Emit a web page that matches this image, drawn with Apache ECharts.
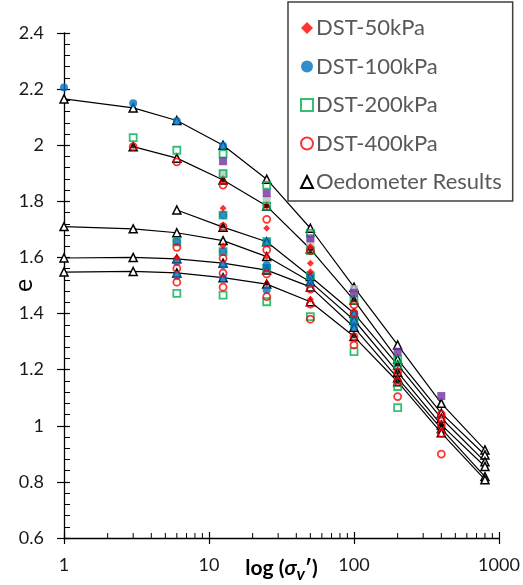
<!DOCTYPE html>
<html>
<head>
<meta charset="utf-8">
<script src="https://cdn.jsdelivr.net/npm/echarts@6/dist/echarts.min.js"></script>
<style>
  html, body { margin: 0; padding: 0; background: #fff; }
  #chart { width: 523px; height: 585px; }
</style>
</head>
<body>
<div id="chart"></div>
<script>
// Vertical effective stress steps (kPa)
const pressures = [1, 3, 6, 12.5, 25, 50, 100, 200, 400, 800];

// Oedometer compression curves (void ratio e at each pressure step; null = not loaded)
const oedoA = [2.165, 2.133, 2.088, 2.000, 1.879, 1.704, 1.494, 1.288, 1.080, 0.914];
const oedoB = [null, 1.995, 1.954, 1.876, 1.783, 1.630, 1.448, 1.237, 1.045, 0.896];
const oedoC = [null, null, 1.769, 1.708, 1.656, 1.532, 1.401, 1.217, 1.027, 0.872];
const oedoD = [1.710, 1.702, 1.688, 1.660, 1.603, 1.513, 1.377, 1.191, 1.003, 0.855];
const oedoE = [1.598, 1.600, 1.595, 1.580, 1.555, 1.495, 1.351, 1.170, 0.990, 0.819];
const oedoF = [1.548, 1.550, 1.545, 1.528, 1.505, 1.442, 1.318, 1.157, 0.975, 0.808];

// Direct shear specimens: [pressure, e]
const dst50 = [
  [6, 1.600],
  [12.5, 1.876], [12.5, 1.775], [12.5, 1.642],
  [25, 1.783], [25, 1.704], [25, 1.603], [25, 1.508],
  [50, 1.638], [50, 1.579], [50, 1.549], [50, 1.451]
];
const dst100 = [
  [1, 2.206], [3, 2.150],
  [6, 2.086], [6, 1.656], [6, 1.585], [6, 1.535],
  [12.5, 1.998], [12.5, 1.751], [12.5, 1.621], [12.5, 1.573], [12.5, 1.526],
  [25, 1.656], [25, 1.573], [25, 1.561], [25, 1.484],
  [50, 1.534], [50, 1.505],
  [100, 1.401], [100, 1.377], [100, 1.351]
];
const dst200 = [
  [3, 2.027],
  [6, 1.982], [6, 1.656], [6, 1.472],
  [12.5, 1.969], [12.5, 1.899], [12.5, 1.751], [12.5, 1.621], [12.5, 1.466],
  [25, 1.858], [25, 1.783], [25, 1.656], [25, 1.561], [25, 1.442],
  [50, 1.686], [50, 1.624], [50, 1.534], [50, 1.389],
  [100, 1.448], [100, 1.377], [100, 1.264],
  [200, 1.237], [200, 1.217], [200, 1.140], [200, 1.065]
];
const dst400 = [
  [3, 1.995],
  [6, 1.941], [6, 1.636], [6, 1.561], [6, 1.512],
  [12.5, 1.858], [12.5, 1.710], [12.5, 1.597], [12.5, 1.544], [12.5, 1.494],
  [25, 1.736], [25, 1.627], [25, 1.541], [25, 1.460],
  [50, 1.624], [50, 1.487], [50, 1.434], [50, 1.380],
  [100, 1.431], [100, 1.401], [100, 1.318], [100, 1.288],
  [200, 1.191], [200, 1.157], [200, 1.104],
  [400, 1.041], [400, 1.027], [400, 1.003], [400, 0.973], [400, 0.899]
];
// Additional specimens shown without a legend entry
const extraPurple = [[12.5, 1.943], [25, 1.829], [50, 1.668], [100, 1.474], [200, 1.264], [400, 1.106]];
const extraGray = [[12.5, 1.899], [25, 1.805], [50, 1.653], [100, 1.487]];
const extraBlack = [
  [3, 1.995], [12.5, 1.876], [12.5, 1.710], [25, 1.783], [25, 1.508], [50, 1.624],
  [100, 1.448], [100, 1.318], [200, 1.217], [200, 1.191], [200, 1.157], [400, 1.003]
];

// Axis ranges and tick values
const xMin = 1, xMax = 1000;
const yMin = 0.6, yMax = 2.4, yStep = 0.2;
const xMinorTicks = [2, 3, 4, 5, 6, 7, 8, 9, 20, 30, 40, 50, 60, 70, 80, 90, 200, 300, 400, 500, 600, 700, 800, 900];

const FONT = 'Lato, "Liberation Sans", sans-serif';

function curve(values) {
  return pressures.map((p, i) => [p, values[i]]).filter(d => d[1] !== null);
}

const oedoStyle = {
  type: 'line',
  name: 'Oedometer Results',
  symbol: 'triangle',
  symbolSize: 8,
  showSymbol: true,
  lineStyle: { color: '#000', width: 1.2 },
  itemStyle: { color: '#fff', borderColor: '#000', borderWidth: 1.5 },
  z: 2,
  animation: false
};

const oedoSeries = [oedoA, oedoB, oedoC, oedoD, oedoE, oedoF].map(v =>
  Object.assign({}, oedoStyle, { data: curve(v) })
);

const chart = echarts.init(document.getElementById('chart'), null, { renderer: 'canvas' });

chart.setOption({
  animation: false,
  backgroundColor: '#fff',
  grid: { left: 64, right: 24, top: 33, bottom: 47, containLabel: false, outerBoundsMode: 'none' },
  xAxis: [
    {
      type: 'log', logBase: 10, min: xMin, max: xMax,
      axisLine: { lineStyle: { color: '#000', width: 1.3 } },
      axisTick: { inside: true, length: 6, lineStyle: { color: '#000', width: 1.2 } },
      axisLabel: { color: '#1a1a1a', fontSize: 18, fontFamily: FONT, margin: 18,
                   formatter: v => String(Math.round(v)) },
      splitLine: { show: false },
      name: '{b|log (}{i|σ}{s|v}{b|′)}',
      nameLocation: 'middle',
      nameGap: 15,
      nameMoveOverlap: false,
      nameTextStyle: {
        rich: {
          b: { fontSize: 21, fontWeight: 'bold', fontFamily: FONT, color: '#000', lineHeight: 30 },
          i: { fontSize: 21, fontWeight: 'bold', fontStyle: 'italic', fontFamily: FONT, color: '#000', lineHeight: 30 },
          s: { fontSize: 17, fontWeight: 'bold', fontStyle: 'italic', fontFamily: FONT, color: '#000', lineHeight: 12, verticalAlign: 'bottom' }
        }
      }
    },
    {
      type: 'log', logBase: 10, min: xMin, max: xMax, position: 'bottom', offset: 0,
      axisLine: { show: false },
      axisTick: { inside: false, length: 6, lineStyle: { color: '#000', width: 1.2 } },
      axisLabel: { show: false },
      splitLine: { show: false }
    }
  ],
  yAxis: [
    {
      type: 'value', min: yMin, max: yMax, interval: yStep,
      axisLine: { show: true, lineStyle: { color: '#000', width: 1.3 } },
      axisTick: { show: true, inside: true, length: 6, lineStyle: { color: '#000', width: 1.2 } },
      minorTick: { show: true, splitNumber: 5, length: 6, lineStyle: { color: '#000', width: 1 } },
      axisLabel: { color: '#1a1a1a', fontSize: 18, fontFamily: FONT, margin: 20,
                   formatter: v => String(Math.round(v * 10) / 10) },
      splitLine: { show: false },
      minorSplitLine: { show: false },
      name: 'e',
      nameLocation: 'middle',
      nameRotate: 90,
      nameGap: 28,
      nameMoveOverlap: false,
      nameTextStyle: { fontSize: 25, fontFamily: FONT, color: '#000' }
    },
    {
      type: 'value', min: yMin, max: yMax, interval: yStep, position: 'left', offset: 0,
      axisLine: { show: false },
      axisTick: { show: true, inside: false, length: 7, lineStyle: { color: '#000', width: 1.2 } },
      axisLabel: { show: false },
      splitLine: { show: false }
    }
  ],
  legend: {
    orient: 'vertical',
    left: 288,
    top: 2,
    padding: [15, 11, 8, 12],
    itemGap: 16.5,
    itemWidth: 12,
    itemHeight: 12,
    backgroundColor: '#fff',
    borderColor: '#404040',
    borderWidth: 1.5,
    borderRadius: 0,
    textStyle: { color: '#595959', fontSize: 22, fontFamily: FONT, padding: [0, 0, 0, -2] },
    data: [
      { name: 'DST-50kPa', icon: 'diamond' },
      { name: 'DST-100kPa', icon: 'circle' },
      { name: 'DST-200kPa', icon: 'rect' },
      { name: 'DST-400kPa', icon: 'circle' },
      { name: 'Oedometer Results', icon: 'triangle' }
    ],
    z: 10
  },
  series: [
    // minor ticks of the logarithmic axis
    {
      type: 'custom',
      name: 'minorTicks',
      silent: true,
      data: xMinorTicks.map(v => [v, yMin]),
      renderItem: function (params, api) {
        const p = api.coord([api.value(0), api.value(1)]);
        return {
          type: 'line',
          shape: { x1: p[0], y1: p[1], x2: p[0], y2: p[1] - 5 },
          style: { stroke: '#000', lineWidth: 1 }
        };
      },
      z: 1
    },
    ...oedoSeries,
    {
      type: 'scatter', name: 'extraGray', data: extraGray,
      symbol: 'rect', symbolSize: 8, itemStyle: { color: '#bfbfbf' }, z: 3
    },
    {
      type: 'scatter', name: 'DST-200kPa', data: dst200,
      symbol: 'rect', symbolSize: 7,
      itemStyle: { color: 'rgba(255,255,255,0)', borderColor: '#00b050', borderWidth: 1.8 }, z: 4
    },
    {
      type: 'scatter', name: 'extraPurple', data: extraPurple,
      symbol: 'rect', symbolSize: 8, itemStyle: { color: '#7030a0' }, z: 5
    },
    {
      type: 'scatter', name: 'DST-100kPa', data: dst100,
      symbol: 'circle', symbolSize: 8, itemStyle: { color: '#0070c0' }, z: 5
    },
    {
      type: 'scatter', name: 'DST-50kPa', data: dst50,
      symbol: 'diamond', symbolSize: 7, itemStyle: { color: '#ff0000' }, z: 6
    },
    {
      type: 'scatter', name: 'DST-400kPa', data: dst400,
      symbol: 'circle', symbolSize: 7,
      itemStyle: { color: 'rgba(255,255,255,0)', borderColor: '#ff0000', borderWidth: 1.8 }, z: 6
    },
    {
      type: 'scatter', name: 'extraBlack', data: extraBlack,
      symbol: 'rect', symbolSize: 3.5, itemStyle: { color: '#000' }, z: 7
    }
  ]
});
</script>
</body>
</html>
